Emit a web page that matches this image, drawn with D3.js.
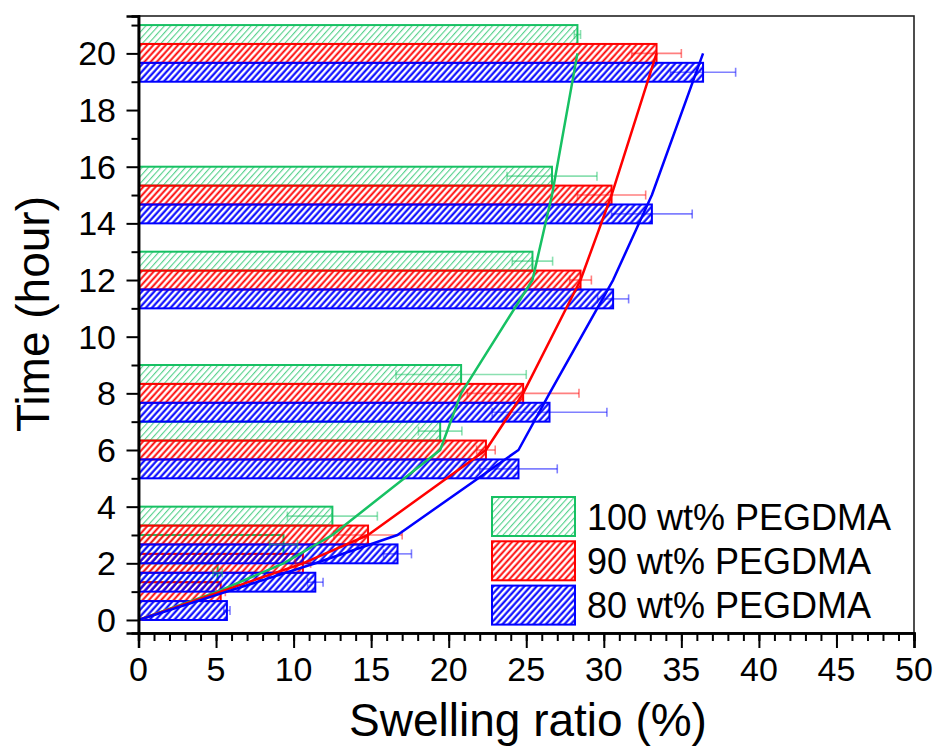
<!DOCTYPE html>
<html>
<head>
<meta charset="utf-8">
<script src="https://cdn.jsdelivr.net/npm/d3@7"></script>
<style>
  html, body { margin: 0; padding: 0; background: #fff; }
  svg { display: block; font-family: "Liberation Sans", Arial, Helvetica, sans-serif; }
</style>
</head>
<body>
<svg id="chart" width="939" height="749"></svg>
<script>
// Swelling ratio of PEGDMA hydrogels over time (mean ± SD)
const times = [0, 1, 2, 3, 6, 8, 12, 15, 20];

const peg100 = [0, 5.1, 9.35, 12.5, 19.45, 20.8, 25.4, 26.66, 28.3];
const peg100Err = [0, 0.3, 0.9, 2.9, 1.4, 4.2, 1.3, 2.9, 0.2];

const peg90 = [0, 5.3, 10.6, 14.8, 22.4, 24.8, 28.5, 30.5, 33.4];
const peg90Err = [0, 0.3, 0.5, 2.2, 0.6, 3.6, 0.7, 2.2, 1.6];

const peg80 = [0, 5.7, 11.4, 16.7, 24.5, 26.5, 30.6, 33.1, 36.4];
const peg80Err = [0, 0.2, 0.5, 0.9, 2.5, 3.7, 1.0, 2.6, 2.1];

const seriesNames = ["100 wt% PEGDMA", "90 wt% PEGDMA", "80 wt% PEGDMA"];
const seriesColors = ["#17c163", "#ff0000", "#0000ff"];

const xTickValues = [0, 5, 10, 15, 20, 25, 30, 35, 40, 45, 50];
const yTickValues = [0, 2, 4, 6, 8, 10, 12, 14, 16, 18, 20];

const series = [
  { name: seriesNames[0], color: seriesColors[0], values: peg100, errs: peg100Err, offset: 1, hatch: 1.1, hatchOpacity: 0.75 },
  { name: seriesNames[1], color: seriesColors[1], values: peg90, errs: peg90Err, offset: 0, hatch: 1.9, hatchOpacity: 1 },
  { name: seriesNames[2], color: seriesColors[2], values: peg80, errs: peg80Err, offset: -1, hatch: 2.1, hatchOpacity: 1 }
];

const plotLeft = 138.5, plotRight = 914, plotTop = 16, plotBottom = 633;
const barSpan = 2 / 3; // each bar covers 2/3 hour on the time axis

const svg = d3.select("#chart");
const x = d3.scaleLinear().domain([0, 50]).range([plotLeft, plotRight]);
const y = d3.scaleLinear().domain([-0.46, 21.32]).range([plotBottom, plotTop]);

// hatch patterns
const defs = svg.append("defs");
series.forEach((s, i) => {
  const p = defs.append("pattern")
    .attr("id", "hatch" + i)
    .attr("patternUnits", "userSpaceOnUse")
    .attr("width", 4.6).attr("height", 10)
    .attr("patternTransform", "rotate(42)");
  p.append("line")
    .attr("x1", 1.5).attr("y1", -1).attr("x2", 1.5).attr("y2", 11)
    .attr("stroke", s.color)
    .attr("stroke-opacity", s.hatchOpacity)
    .attr("stroke-width", s.hatch);
});

defs.append("clipPath").attr("id", "plotClip")
  .append("rect").attr("x", plotLeft).attr("y", plotTop)
  .attr("width", plotRight - plotLeft).attr("height", plotBottom - plotTop);

const plot = svg.append("g").attr("clip-path", "url(#plotClip)");
const barH = y(0) - y(barSpan);

// bars
series.forEach((s, i) => {
  const rows = times.map((t, k) => ({ t, v: s.values[k], e: s.errs[k] })).filter(d => d.v > 0);
  plot.append("g").selectAll("rect").data(rows).join("rect")
    .attr("x", x(0))
    .attr("y", d => y(d.t + s.offset * barSpan + barSpan / 2))
    .attr("width", d => x(d.v) - x(0))
    .attr("height", barH)
    .attr("fill", "url(#hatch" + i + ")")
    .attr("stroke", s.color)
    .attr("stroke-width", 2);
});

// error bars
series.forEach((s) => {
  const rows = times.map((t, k) => ({ t, v: s.values[k], e: s.errs[k] })).filter(d => d.v > 0);
  const g = plot.append("g").attr("stroke", s.color).attr("stroke-opacity", 0.5).attr("stroke-width", 1.6);
  rows.forEach(d => {
    const cy = y(d.t + s.offset * barSpan);
    g.append("line").attr("x1", x(d.v - d.e)).attr("x2", x(d.v + d.e)).attr("y1", cy).attr("y2", cy);
    g.append("line").attr("x1", x(d.v - d.e)).attr("x2", x(d.v - d.e)).attr("y1", cy - 4.5).attr("y2", cy + 4.5);
    g.append("line").attr("x1", x(d.v + d.e)).attr("x2", x(d.v + d.e)).attr("y1", cy - 4.5).attr("y2", cy + 4.5);
  });
});

// trend lines through the mean values
const line = d3.line().x(d => x(d.v)).y(d => y(d.t)).curve(d3.curveLinear);
series.forEach((s) => {
  const pts = times.map((t, k) => ({ t, v: s.values[k] }));
  plot.append("path").datum(pts)
    .attr("d", line)
    .attr("fill", "none")
    .attr("stroke", s.color)
    .attr("stroke-width", 2.5)
    .attr("stroke-linejoin", "round");
});

// frame
svg.append("rect")
  .attr("x", plotLeft).attr("y", plotTop)
  .attr("width", plotRight - plotLeft).attr("height", plotBottom - plotTop)
  .attr("fill", "none").attr("stroke", "#222").attr("stroke-width", 1.6);

// x axis
const xAxisG = svg.append("g").attr("transform", `translate(0,${plotBottom})`);
xAxisG.call(d3.axisBottom(x).tickValues(d3.range(0, 51, 1)).tickSize(8).tickFormat(""));
xAxisG.append("g").call(d3.axisBottom(x).tickValues(xTickValues).tickSize(15).tickFormat(""));
xAxisG.selectAll("path.domain").attr("stroke", "#000").attr("stroke-width", 2.5);
xAxisG.selectAll(".tick line").attr("stroke", "#000").attr("stroke-width", 2);
svg.append("g").selectAll("text").data(xTickValues).join("text")
  .attr("x", d => x(d)).attr("y", 681)
  .attr("text-anchor", "middle")
  .attr("font-size", 34)
  .attr("fill", "#000")
  .text(d => d);

// y axis
const yAxisG = svg.append("g").attr("transform", `translate(${plotLeft},0)`);
yAxisG.call(d3.axisLeft(y).tickValues(d3.range(1, 22, 2)).tickSize(7).tickFormat(""));
yAxisG.append("g").call(d3.axisLeft(y).tickValues(yTickValues).tickSize(12).tickFormat(""));
yAxisG.selectAll("path.domain").attr("stroke", "#000").attr("stroke-width", 2.5);
yAxisG.selectAll(".tick line").attr("stroke", "#000").attr("stroke-width", 2);
svg.append("g").selectAll("text").data(yTickValues).join("text")
  .attr("x", 116).attr("y", d => y(d))
  .attr("dy", "0.35em")
  .attr("text-anchor", "end")
  .attr("font-size", 34)
  .attr("fill", "#000")
  .text(d => d);

// axis titles
svg.append("text")
  .attr("x", 528).attr("y", 736)
  .attr("text-anchor", "middle")
  .attr("font-size", 46)
  .attr("fill", "#000")
  .text("Swelling ratio (%)");
svg.append("text")
  .attr("transform", "translate(49,314) rotate(-90)")
  .attr("text-anchor", "middle")
  .attr("font-size", 46)
  .attr("fill", "#000")
  .text("Time (hour)");

// legend
const legend = svg.append("g").attr("transform", "translate(492,497)");
series.forEach((s, i) => {
  const g = legend.append("g").attr("transform", `translate(0,${i * 44.3})`);
  g.append("rect")
    .attr("width", 83).attr("height", 39)
    .attr("fill", "url(#hatch" + i + ")")
    .attr("stroke", s.color).attr("stroke-width", 2);
  g.append("text")
    .attr("x", 95).attr("y", 20).attr("dy", "0.35em")
    .attr("font-size", 36)
    .attr("fill", "#000")
    .text(s.name);
});
</script>
</body>
</html>
